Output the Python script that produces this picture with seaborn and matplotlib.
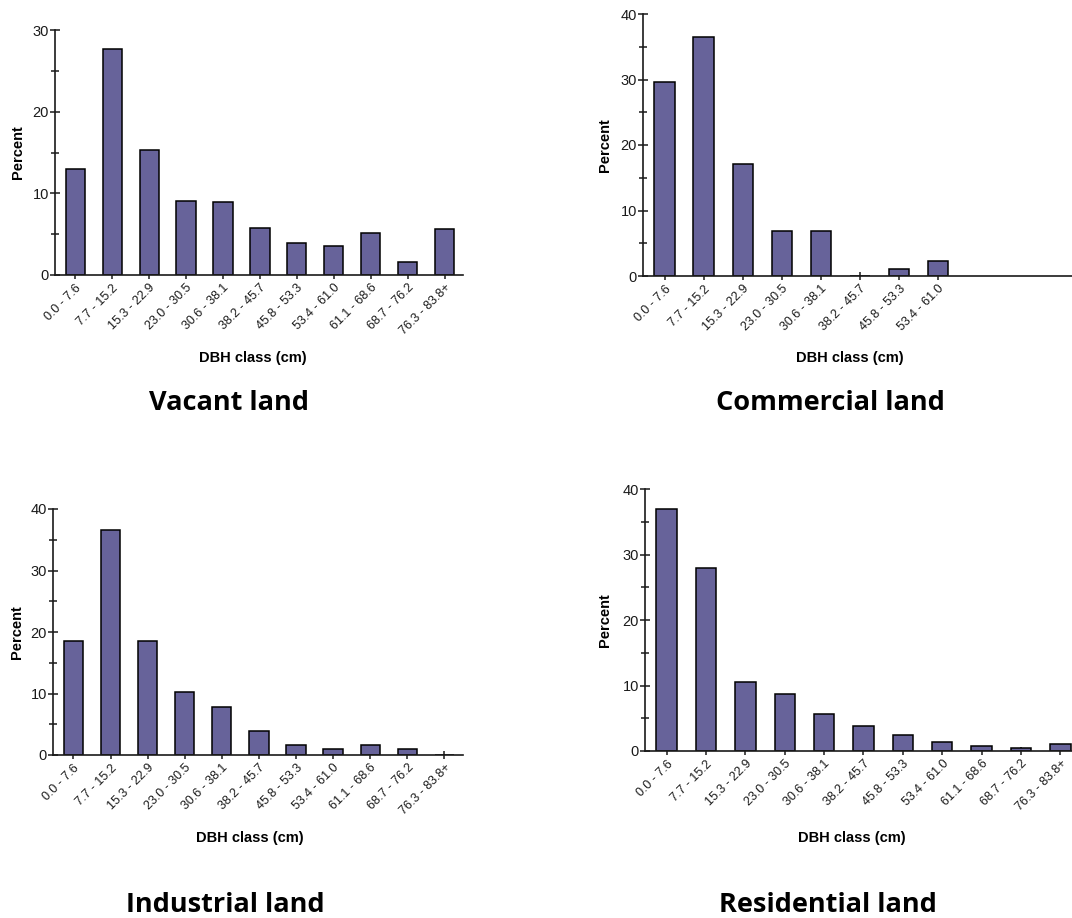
import matplotlib
matplotlib.use("Agg")
import matplotlib.pyplot as plt
from matplotlib.ticker import MultipleLocator
import seaborn as sns
import pandas as pd

# ---- data ----
classes = ["0.0 - 7.6", "7.7 - 15.2", "15.3 - 22.9", "23.0 - 30.5", "30.6 - 38.1",
           "38.2 - 45.7", "45.8 - 53.3", "53.4 - 61.0", "61.1 - 68.6", "68.7 - 76.2",
           "76.3 - 83.8+"]
vacant = [13.0, 27.7, 15.3, 9.1, 9.0, 5.8, 3.9, 3.6, 5.1, 1.6, 5.6]
commercial_classes = classes[:8]
commercial = [29.6, 36.5, 17.1, 6.9, 6.9, 0.0, 1.1, 2.3]
industrial = [18.6, 36.6, 18.6, 10.2, 7.8, 3.9, 1.6, 0.9, 1.6, 0.9, 0.0]
residential = [36.9, 28.0, 10.6, 8.7, 5.6, 3.8, 2.5, 1.3, 0.8, 0.4, 1.1]

titles = ["Vacant land", "Commercial land", "Industrial land", "Residential land"]
xlabel = "DBH class (cm)"
ylabel = "Percent"

sns.set_theme(style="ticks")
plt.rcParams['font.family'] = ['Liberation Sans', 'DejaVu Sans']
plt.rcParams['text.color'] = 'black'

W, H = 1072, 918
fig = plt.figure(figsize=(W / 100, H / 100), dpi=100)

bar_color = "#67639A"
ink = "#1a1a1a"

def px_axes(x0, x1, ytop, ybot):
    return fig.add_axes([x0 / W, 1 - ybot / H, (x1 - x0) / W, (ybot - ytop) / H])

panels = [
    # (cats, vals, ymax, (x0, x1, ytop, ybot), xlabel center (px), ylabel x (px), title center(px))
    (classes, vacant, 30, (55, 463, 30, 275), (253, 358), 18, (229, 403)),
    (commercial_classes, commercial, 40, (643, 1075, 14, 276), (850, 358), 605, (830, 403)),
    (classes, industrial, 40, (53, 463, 509, 755), (250, 838), 17, (225, 905)),
    (classes, residential, 40, (645, 1080, 489, 751), (852, 838), 605, (828, 905)),
]

for (cats, vals, ymax, box, xl, ylx, tpos), title in zip(panels, titles):
    x0, x1, ytop, ybot = box
    ax = px_axes(x0, x1, ytop, ybot)
    df = pd.DataFrame({"cls": cats, "pct": vals})
    sns.barplot(data=df, x="cls", y="pct", order=cats, color=bar_color,
                saturation=1, edgecolor="black", linewidth=1.1, width=0.52, ax=ax)
    ax.set_xlim(-0.55, 10.5)
    ax.set_ylim(0, ymax)
    ax.yaxis.set_major_locator(MultipleLocator(10))
    ax.yaxis.set_minor_locator(MultipleLocator(5))
    for s in ["top", "right"]:
        ax.spines[s].set_visible(False)
    for s in ["left", "bottom"]:
        ax.spines[s].set_color(ink)
        ax.spines[s].set_linewidth(1.2)
    ax.tick_params(axis="y", which="major", direction="inout", length=7, width=1.1,
                   labelsize=10.5, color=ink, labelcolor=ink, pad=1)
    ax.tick_params(axis="y", which="minor", direction="inout", length=6, width=1.1,
                   color=ink)
    ax.tick_params(axis="x", which="major", direction="inout", length=6, width=1.1,
                   labelsize=9, color=ink, labelcolor=ink, pad=2)
    for lab in ax.get_xticklabels():
        lab.set_rotation(45)
        lab.set_ha("right")
        lab.set_rotation_mode("anchor")
    ax.set_xlabel("")
    ax.set_ylabel("")
    fig.text(xl[0] / W, 1 - xl[1] / H, xlabel, ha="center", va="center",
             fontsize=10.5, fontweight="bold", color="black")
    fig.text(ylx / W, 1 - ((ytop + ybot) / 2) / H, ylabel, ha="center", va="center",
             rotation=90, fontsize=10.5, fontweight="bold", color="black")
    fig.text(tpos[0] / W, 1 - tpos[1] / H, title, ha="center", va="center",
             fontsize=19.5, fontweight="bold", color="black",
             family=["Open Sans", "DejaVu Sans"])

fig.savefig("out.png", dpi=100, facecolor="white")
